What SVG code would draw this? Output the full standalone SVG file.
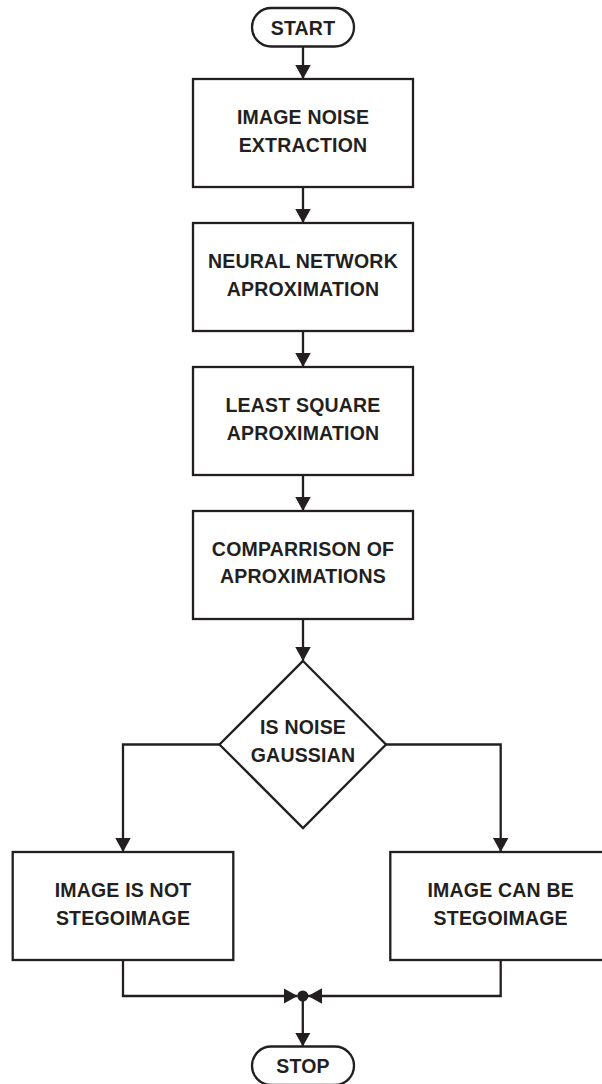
<svg xmlns="http://www.w3.org/2000/svg" width="602" height="1084" viewBox="0 0 602 1084">
<style>
.box{fill:#fff;stroke:#231f20;stroke-width:2.3}
.con{fill:none;stroke:#231f20;stroke-width:2.3}
text{font-family:"Liberation Sans",Arial,sans-serif;font-weight:bold;font-size:19.5px;fill:#231f20;text-anchor:middle;letter-spacing:0.2px}
</style>
<defs>
<marker id="ah" markerUnits="userSpaceOnUse" markerWidth="15" markerHeight="16" refX="14" refY="7.75" orient="auto" viewBox="0 0 15 16">
<path d="M0,0 L14,7.75 L0,15.5 z" fill="#231f20"/>
</marker>
</defs>
<rect width="602" height="1084" fill="#fff"/>
<g id="connectors">
<line class="con" x1="303" y1="46.5" x2="303" y2="79" marker-end="url(#ah)"/>
<line class="con" x1="303" y1="187" x2="303" y2="223" marker-end="url(#ah)"/>
<line class="con" x1="303" y1="331" x2="303" y2="367" marker-end="url(#ah)"/>
<line class="con" x1="303" y1="475" x2="303" y2="511" marker-end="url(#ah)"/>
<line class="con" x1="303" y1="619" x2="303" y2="661" marker-end="url(#ah)"/>
<polyline class="con" points="219.5,744.5 123,744.5 123,852" marker-end="url(#ah)"/>
<polyline class="con" points="386,744.5 500.7,744.5 500.7,852" marker-end="url(#ah)"/>
<polyline class="con" points="123,960 123,996 297.5,996" marker-end="url(#ah)"/>
<polyline class="con" points="500.7,960 500.7,996 308,996" marker-end="url(#ah)"/>
<circle cx="302.8" cy="996" r="5.5" fill="#231f20"/>
<line class="con" x1="302.8" y1="996" x2="302.8" y2="1046.5" marker-end="url(#ah)"/>
</g>
<g id="start">
<rect class="box" x="252" y="8" width="102" height="38.5" rx="19.25"/>
<text x="303" y="34.5">START</text>
</g>
<g id="noise-extraction">
<rect class="box" x="193" y="79" width="220" height="108"/>
<text x="303" y="124">IMAGE NOISE</text>
<text x="303" y="151.5">EXTRACTION</text>
</g>
<g id="neural-network">
<rect class="box" x="193" y="223" width="220" height="108"/>
<text x="303" y="268">NEURAL NETWORK</text>
<text x="303" y="295.5">APROXIMATION</text>
</g>
<g id="least-square">
<rect class="box" x="193" y="367" width="220" height="108"/>
<text x="303" y="412">LEAST SQUARE</text>
<text x="303" y="439.5">APROXIMATION</text>
</g>
<g id="comparison">
<rect class="box" x="193" y="511" width="220" height="108"/>
<text x="303" y="555.5">COMPARRISON OF</text>
<text x="303" y="583">APROXIMATIONS</text>
</g>
<g id="decision">
<polygon class="box" points="303,661 386,744.5 303,828 219.5,744.5"/>
<text x="303" y="734">IS NOISE</text>
<text x="303" y="762">GAUSSIAN</text>
</g>
<g id="not-stego">
<rect class="box" x="12.7" y="852" width="220.6" height="108"/>
<text x="123" y="897.3">IMAGE IS NOT</text>
<text x="123" y="924.5">STEGOIMAGE</text>
</g>
<g id="can-be-stego">
<rect class="box" x="390.3" y="852" width="220.6" height="108"/>
<text x="500.7" y="897.3">IMAGE CAN BE</text>
<text x="500.7" y="924.5">STEGOIMAGE</text>
</g>
<g id="stop">
<rect class="box" x="252" y="1046.5" width="102" height="38.5" rx="19.25"/>
<text x="303" y="1073.3">STOP</text>
</g>
</svg>
